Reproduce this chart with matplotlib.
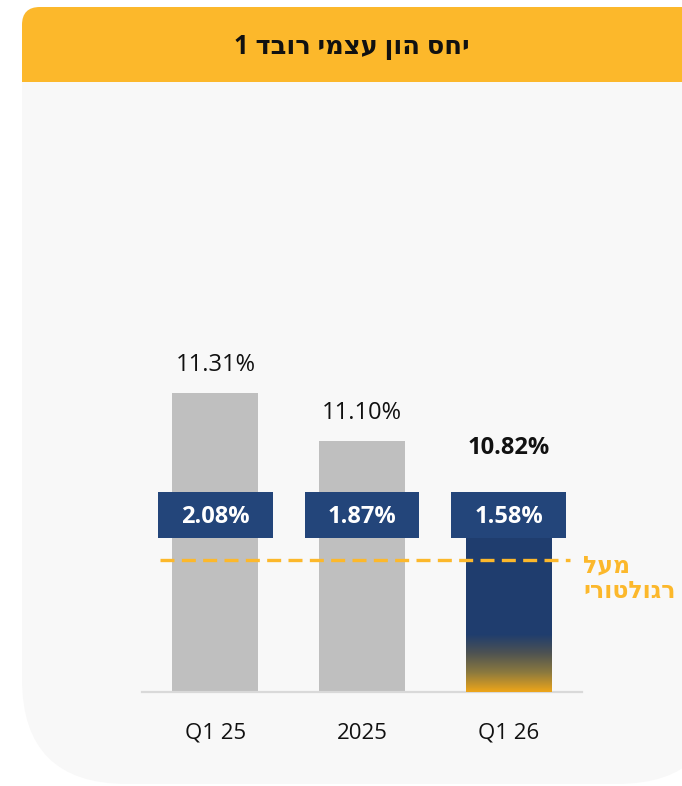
import numpy as np
import matplotlib
matplotlib.use('Agg')
import matplotlib.pyplot as plt
from matplotlib.patches import FancyBboxPatch, Rectangle
from matplotlib.colors import LinearSegmentedColormap
import matplotlib.transforms as mtransforms

plt.rcParams['font.family'] = ['Open Sans', 'DejaVu Sans']

# data
title = 'יחס הון עצמי רובד 1'
periods = ['Q1 25', '2025', 'Q1 26']
tier1_ratio = [11.31, 11.10, 10.82]        # %
above_regulatory = [2.08, 1.87, 1.58]      # % above the regulatory minimum
reg_label = ['מעל', 'רגולטורי']

# colours
YELLOW = '#FCB82B'
NAVY_BOX = '#23457A'
NAVY_BAR = '#1F3D6E'
GREY_BAR = '#BFBFBF'
CARD_BG = '#F8F8F8'


def rtl(s):
    # matplotlib has no bidi support, so flip the Hebrew for display
    return s[::-1]


fig = plt.figure(figsize=(6.82, 7.86), dpi=100, facecolor='white')

# background card, drawn in pixel units
bg = fig.add_axes([0, 0, 1, 1], zorder=0)
bg.set_xlim(0, 682)
bg.set_ylim(786, 0)
bg.axis('off')
bg.add_patch(FancyBboxPatch((22, 7), 700, 777, boxstyle='round,pad=0,rounding_size=105',
                            fc=CARD_BG, ec='none'))
bg.add_patch(FancyBboxPatch((22, 7), 700, 400, boxstyle='round,pad=0,rounding_size=18',
                            fc=CARD_BG, ec='none'))
bg.add_patch(FancyBboxPatch((22, 7), 700, 75, boxstyle='round,pad=0,rounding_size=18',
                            fc=YELLOW, ec='none'))
bg.add_patch(Rectangle((22, 40), 700, 42, fc=YELLOW, ec='none'))
bg.text(352, 46, rtl(title), ha='center', va='center', fontsize=18.5,
        fontweight='bold', color='#111111')
bg.text(583, 566, rtl(reg_label[0]), ha='left', va='center', fontsize=17,
        fontweight='bold', color=YELLOW)
bg.text(583, 592, rtl(reg_label[1]), ha='left', va='center', fontsize=17,
        fontweight='bold', color=YELLOW)

# main chart
y_floor, y_ceil = 10.0, 11.715
ax = fig.add_axes([142 / 682, 94 / 786, 440 / 682, 392 / 786], zorder=1)
ax.patch.set_alpha(0)

x = np.arange(len(periods))
vals = np.array(tier1_ratio)
colors = [GREY_BAR, GREY_BAR, NAVY_BAR]
bars = ax.bar(x, vals - y_floor, bottom=y_floor, width=0.585, color=colors, zorder=2)

# gradient at the foot of the highlighted bar (yellow at the bottom, fading to navy)
last = bars[-1]
cmap = LinearSegmentedColormap.from_list('fade', ['#EDA51A', '#8C7A3E', '#4F5352', NAVY_BAR])
grad = np.linspace(0, 1, 100).reshape(-1, 1)
g_top = y_floor + 0.25
im = ax.imshow(grad, cmap=cmap, aspect='auto', zorder=3, origin='lower',
               extent=[last.get_x(), last.get_x() + last.get_width(), y_floor, g_top])
im.set_clip_path(last)
ax.set_xlim(-0.5, 2.5)
ax.set_ylim(y_floor, y_ceil)

# boxes with the excess over the regulatory minimum
trans = mtransforms.blended_transform_factory(ax.transData, ax.transAxes)
box_bottom, box_h = 0.393, 0.117
box_top_val = y_floor + (box_bottom + box_h) * (y_ceil - y_floor)
for i, v in enumerate(above_regulatory):
    ax.add_patch(Rectangle((i - 0.39, box_bottom), 0.78, box_h, transform=trans,
                           fc=NAVY_BOX, ec='none', zorder=4))
    ax.text(i, box_bottom + box_h / 2 - 0.004, f'{v:.2f}%', transform=trans, ha='center',
            va='center', fontsize=17, fontweight='bold', color='white', zorder=5)

# value labels
for i, v in enumerate(tier1_ratio):
    if v > box_top_val:
        ax.annotate(f'{v:.2f}%', (i, v), xytext=(0, 20), textcoords='offset points',
                    ha='center', va='center', fontsize=17, color='#111111')
    else:
        ax.annotate(f'{v:.2f}%', (i, box_top_val), xytext=(0, 32), textcoords='offset points',
                    ha='center', va='center', fontsize=17, fontweight='bold', color='#111111')

# regulatory line (dashed)
ax.plot([-0.377, 2.418], [0.3367, 0.3367], transform=trans, color=YELLOW, lw=2.4,
        dashes=(4.2, 2.2), zorder=6, clip_on=False)

for s in ['top', 'left', 'right']:
    ax.spines[s].set_visible(False)
ax.spines['bottom'].set_color('#D9D9D9')
ax.spines['bottom'].set_linewidth(1.6)
ax.set_yticks([])
ax.set_xticks(x)
ax.set_xticklabels(periods, fontsize=16, color='#111111')
ax.tick_params(axis='x', length=0, pad=22)

fig.savefig('out.png', dpi=100, facecolor='white')
